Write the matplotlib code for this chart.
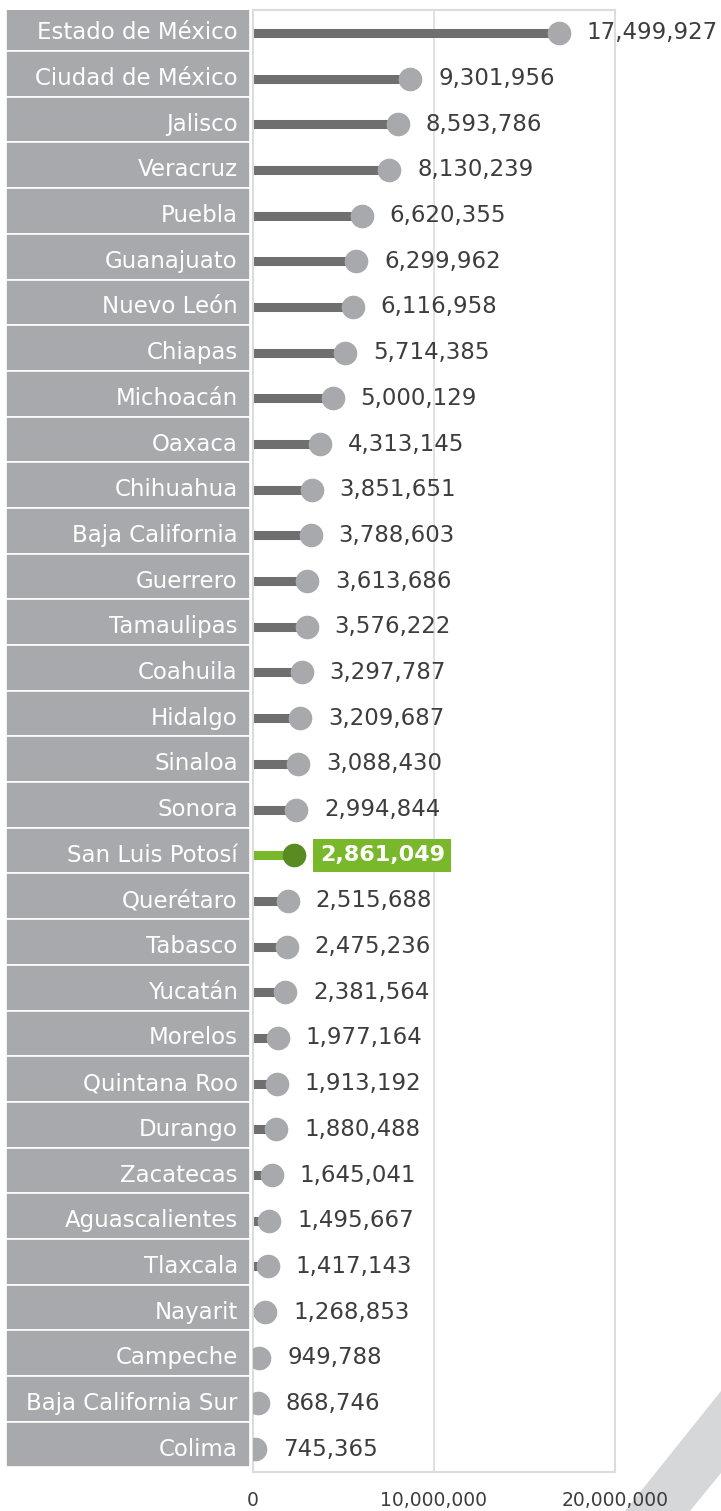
import matplotlib
matplotlib.use("Agg")
import matplotlib.pyplot as plt
import matplotlib.transforms as mtransforms
from matplotlib.patches import Polygon

plt.rcParams['font.family'] = ['DejaVu Sans']

# Datos: población por entidad federativa
estados = [
    "Estado de México", "Ciudad de México", "Jalisco", "Veracruz", "Puebla",
    "Guanajuato", "Nuevo León", "Chiapas", "Michoacán", "Oaxaca",
    "Chihuahua", "Baja California", "Guerrero", "Tamaulipas", "Coahuila",
    "Hidalgo", "Sinaloa", "Sonora", "San Luis Potosí", "Querétaro",
    "Tabasco", "Yucatán", "Morelos", "Quintana Roo", "Durango",
    "Zacatecas", "Aguascalientes", "Tlaxcala", "Nayarit", "Campeche",
    "Baja California Sur", "Colima",
]
poblacion = [
    17499927, 9301956, 8593786, 8130239, 6620355,
    6299962, 6116958, 5714385, 5000129, 4313145,
    3851651, 3788603, 3613686, 3576222, 3297787,
    3209687, 3088430, 2994844, 2861049, 2515688,
    2475236, 2381564, 1977164, 1913192, 1880488,
    1645041, 1495667, 1417143, 1268853, 949788,
    868746, 745365,
]
destacado = "San Luis Potosí"
ticks = [0, 10000000, 20000000]

W, H = 721, 1511
fig = plt.figure(figsize=(W / 100, H / 100), dpi=100)

# franja decorativa (esquina inferior derecha), detras de todo
fig.patches.append(Polygon([(625 / W, 0), (690 / W, 0), (1.0, 38 / H),
                            (1.0, 120 / H)], closed=True,
                           transform=fig.transFigure, fc="#d6d7d9",
                           ec='none', zorder=-5))

top, bottom = 10, 1472
ax = fig.add_axes([253 / W, (H - bottom) / H, 362 / W, (bottom - top) / H])
axl = fig.add_axes([6 / W, (H - bottom) / H, 244 / W, (bottom - top) / H])

n = len(estados)
ys = list(range(n))

gris_linea = "#6f6f6f"
gris_punto = "#a8a9ad"
verde = "#78b82a"
verde_osc = "#5a8a22"

# circulo desplazado para que su borde derecho quede en el valor
r = 11
shift = mtransforms.offset_copy(ax.transData, fig=fig, x=-r, y=0, units='dots')

for y, est, val in zip(ys, estados, poblacion):
    es_dest = est == destacado
    lc = verde if es_dest else gris_linea
    pc = verde_osc if es_dest else gris_punto
    ax.plot([0, val], [y, y], color=lc, lw=6.5, solid_capstyle='butt',
            transform=shift, zorder=2)
    ax.plot([val], [y], 'o', ms=16, color=pc, mec=pc, transform=shift, zorder=3)
    txt = f"{val:,}"
    if es_dest:
        ax.annotate(txt, (val, y), xytext=(15, 0), textcoords='offset pixels',
                    va='center', ha='left', fontsize=16, color='white',
                    fontweight='bold',
                    bbox=dict(boxstyle='square,pad=0.3', fc=verde, ec='none'))
    else:
        ax.annotate(txt, (val, y), xytext=(17, 0), textcoords='offset pixels',
                    va='center', ha='left', fontsize=16.5, color="#3d3d3d",
                    annotation_clip=False)

ax.set_xlim(0, 20000000)
ax.set_ylim(n - 0.5, -0.5)
ax.set_yticks([])
ax.set_xticks(ticks)
ax.set_xticklabels([f"{t:,}" for t in ticks], fontsize=13.5, color="#3d3d3d")
ax.tick_params(axis='x', length=0, pad=14)
ax.axvline(10000000, color="#dcdcdc", lw=1.2, zorder=1)
ax.patch.set_alpha(0)
for s in ax.spines.values():
    s.set_color("#dcdcdc")
    s.set_linewidth(1.5)

# columna de etiquetas
axl.barh([y - 0.1 for y in ys], [1] * n, height=1, color="#a8a9ad",
         edgecolor="white", linewidth=1.2)
for y, est in zip(ys, estados):
    axl.text(0.95, y, est, ha='right', va='center', fontsize=16.5,
             color='white')
axl.set_xlim(0, 1)
axl.set_ylim(n - 0.5, -0.5)
axl.axis('off')

fig.savefig("out.png", dpi=100)
